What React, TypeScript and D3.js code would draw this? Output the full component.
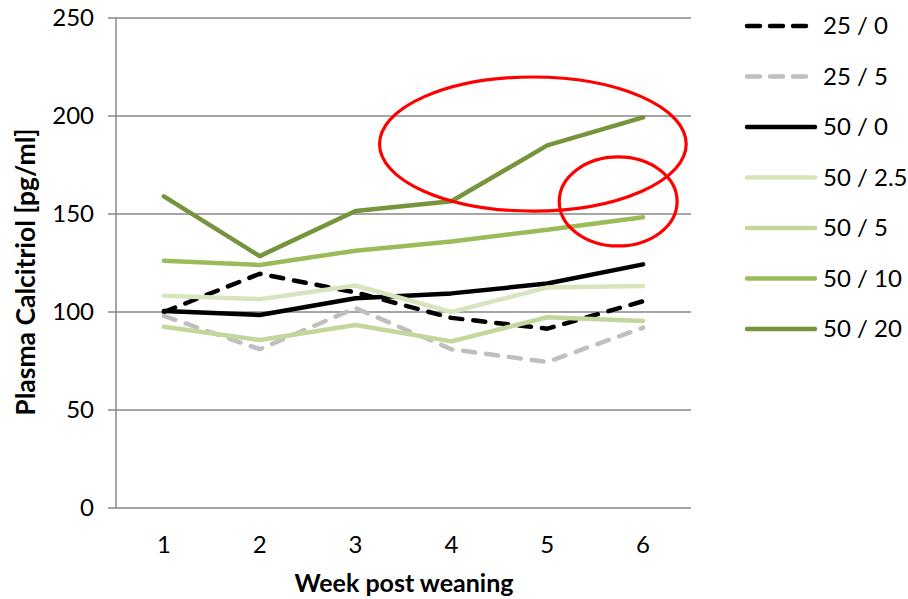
import React from "react";
import * as d3 from "d3";

// Weeks after weaning
const weeks = [1, 2, 3, 4, 5, 6];

// Group labels (dietary groups)
const seriesNames = ["25 / 0", "25 / 5", "50 / 0", "50 / 2.5", "50 / 5", "50 / 10", "50 / 20"];

// Plasma calcitriol values per group, pg/ml
const s25_0 = [100, 119.5, 110, 97, 91.5, 105.5];
const s25_5 = [98, 81, 102, 81, 74.5, 92];
const s50_0 = [100.5, 98.5, 107, 109.5, 114.5, 124.3];
const s50_2_5 = [108.3, 106.5, 113.5, 100, 112.5, 113.3];
const s50_5 = [92.5, 85.7, 93.4, 85, 97.3, 95.4];
const s50_10 = [126.2, 124, 131.3, 136, 142, 148.3];
const s50_20 = [159, 128.5, 151.5, 156.5, 185, 199.3];

const seriesValues = [s25_0, s25_5, s50_0, s50_2_5, s50_5, s50_10, s50_20];
const seriesColors = ["#000000", "#BFBFBF", "#000000", "#D7E4BD", "#C3D69B", "#9BBB59", "#77933C"];
const seriesDashed = [true, true, false, false, false, false, false];

const yTicks = [0, 50, 100, 150, 200, 250];

// Highlight ellipses: centre (week, value), radii (weeks, value units)
const ringCx = [4.85, 5.74];
const ringCy = [185.7, 156.4];
const ringRx = [1.6, 0.615];
const ringRy = [34.2, 22.7];

const W = 908;
const H = 599;
const FONT = "Lato, 'Open Sans', sans-serif";

export default function App() {
  const x = d3.scaleLinear().domain([0.5, 6.5]).range([116, 691]);
  const y = d3.scaleLinear().domain([0, 250]).range([508, 18]);

  const line = d3
    .line<number>()
    .x((_, i) => x(weeks[i]))
    .y((v) => y(v));

  const grid = "#878787";

  return (
    <svg
      width={W}
      height={H}
      style={{ position: "absolute", left: 0, top: 0, background: "#fff" }}
      fontFamily={FONT}
    >
      {/* horizontal gridlines */}
      {yTicks.map((t) => (
        <line key={"g" + t} x1={108} x2={x(6.5)} y1={y(t)} y2={y(t)} stroke={grid} strokeWidth={1.5} />
      ))}
      {/* y axis */}
      <line x1={x(0.5)} x2={x(0.5)} y1={y(250)} y2={y(0)} stroke={grid} strokeWidth={1.5} />
      {yTicks.map((t) => (
        <text key={"yt" + t} x={94} y={y(t)} dy="0.35em" textAnchor="end" fontSize={24} fill="#000">
          {t}
        </text>
      ))}
      {weeks.map((w) => (
        <text key={"xt" + w} x={x(w)} y={545} dy="0.35em" textAnchor="middle" fontSize={24} fill="#000">
          {w}
        </text>
      ))}
      <text x={404} y={583} dy="0.35em" textAnchor="middle" fontSize={25} fontWeight="bold" fill="#000">
        Week post weaning
      </text>
      <text
        transform={`translate(26,${272}) rotate(-90)`}
        textAnchor="middle"
        dy="0.35em"
        fontSize={26.5}
        fontWeight="bold"
        fill="#000"
      >
        Plasma Calcitriol [pg/ml]
      </text>

      {/* series lines */}
      {seriesValues.map((vals, i) => (
        <path
          key={"s" + i}
          d={line(vals) || ""}
          fill="none"
          stroke={seriesColors[i]}
          strokeWidth={4.5}
          strokeLinejoin="round"
          strokeLinecap="round"
          strokeDasharray={seriesDashed[i] ? "12 11" : undefined}
        />
      ))}

      {/* highlight rings */}
      {ringCx.map((cx, i) => (
        <ellipse
          key={"r" + i}
          cx={x(cx)}
          cy={y(ringCy[i])}
          rx={x(cx + ringRx[i]) - x(cx)}
          ry={y(ringCy[i] - ringRy[i]) - y(ringCy[i])}
          fill="none"
          stroke="#FF0000"
          strokeWidth={3.2}
        />
      ))}

      {/* legend */}
      {seriesNames.map((name, i) => {
        const ly = 26 + i * 50.5;
        return (
          <g key={"l" + i}>
            <line
              x1={747}
              x2={seriesDashed[i] ? 806 : 815}
              y1={ly}
              y2={ly}
              stroke={seriesColors[i]}
              strokeWidth={4.5}
              strokeLinecap="round"
              strokeDasharray={seriesDashed[i] ? "13 10" : undefined}
            />
            <text x={823} y={ly} dy="0.35em" fontSize={24} fill="#000">
              {name}
            </text>
          </g>
        );
      })}
    </svg>
  );
}
